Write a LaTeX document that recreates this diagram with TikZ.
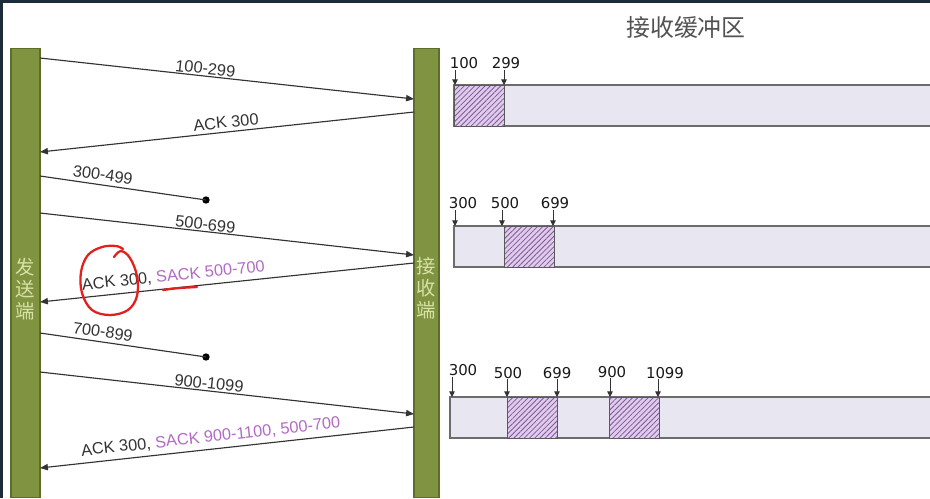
\documentclass[tikz,border=0pt]{standalone}
\usepackage{fontspec}
\setmainfont{Liberation Sans}
\newfontfamily\numfont{DejaVu Sans}
\newfontfamily\cjk{Noto Sans CJK SC}
\usetikzlibrary{arrows.meta, patterns.meta}
\definecolor{bar-fill}{HTML}{7F9341}
\definecolor{bar-draw}{HTML}{5D6D2C}
\definecolor{bar-text}{HTML}{D8E2A6}
\definecolor{msg-gray}{HTML}{333333}
\definecolor{sack-purple}{HTML}{B36AC4}
\definecolor{buf-fill}{HTML}{E8E6F1}
\definecolor{buf-draw}{HTML}{6C6C6C}
\definecolor{hatch-bg}{HTML}{DDCDEA}
\definecolor{hatch-line}{HTML}{85559A}
\definecolor{pen-red}{HTML}{E3201E}
\definecolor{frame-dark}{HTML}{1D2C3B}

\begin{document}
\begin{tikzpicture}[x=0.02cm, y=-0.02cm,
      every node/.style={font=\fontsize{9.3}{11}\selectfont},
      endpoint/.style={draw=bar-draw, fill=bar-fill, line width=0.6pt,
          minimum width=#1, minimum height=9cm, inner sep=0pt, outer sep=0pt},
      sidelbl/.style={text=bar-text, align=center,
          font=\cjk\fontsize{11}{12.5}\selectfont},
      msg/.style={draw=msg-gray, line width=0.65pt,
          -{Triangle[length=4.5pt, width=3.6pt]}},
      lbl/.style={sloped, above, inner sep=0.6pt, text=msg-gray},
      lost/.style={circle, fill=black, minimum size=4.2pt, inner sep=0pt},
      buf/.style={draw=buf-draw, fill=buf-fill, line width=0.8pt, anchor=north west,
          minimum width=#1, minimum height=0.82cm, inner sep=0pt, outer sep=0pt},
      hatched/.style={draw=black!65, line width=0.4pt, anchor=north west,
          preaction={fill=hatch-bg},
          pattern={Lines[angle=45, distance=2.1pt, line width=0.45pt]},
          pattern color=hatch-line,
          minimum width=1.0cm, minimum height=0.82cm, inner sep=0pt, outer sep=0pt},
      bufnum/.style={font=\numfont\fontsize{8.5}{10}\selectfont, text=black!90,
          inner sep=0pt},
      tick/.style={draw=black!80, line width=0.5pt,
          -{Triangle[length=3.2pt, width=3.2pt]}},
      annot/.style={draw=pen-red, line width=1.3pt, line cap=round, line join=round}]
    \useasboundingbox (0,0) rectangle (930,498);
    \fill[white] (0,0) rectangle (930,498);
    \fill[frame-dark] (0,0) rectangle (930,3);
    \fill[frame-dark] (0,0) rectangle (3,498);

    \node[endpoint=0.58cm] (sender) at (25.5,273) {};
    \node[endpoint=0.5cm] (receiver) at (426.5,273) {};
    \node[sidelbl] (sendlbl) at (25.5,289) {发\\送\\端};
    \node[sidelbl] (recvlbl) at (426.5,288) {接\\收\\端};

    \node[lost] (lost1) at (206,200) {};
    \node[lost] (lost2) at (206,357) {};

    \draw[msg] (sender.east |- 0,58) -- node[lbl, pos=0.44] {100-299} (receiver.west |- 0,99);
    \draw[msg] (receiver.west |- 0,112) -- node[lbl, pos=0.5, inner sep=2pt] {ACK 300} (sender.east |- 0,152);
    \draw[msg, -] (sender.east |- 0,176) -- node[lbl, pos=0.37, inner sep=2.2pt] {300-499} (lost1.center);
    \draw[msg] (sender.east |- 0,213) -- node[lbl, pos=0.44] {500-699} (receiver.west |- 0,255);
    \draw[msg] (receiver.west |- 0,263) -- node[lbl, pos=0.64, inner sep=2.6pt]
          {ACK 300, \textcolor{sack-purple}{SACK 500-700}} (sender.east |- 0,302);
    \draw[msg, -] (sender.east |- 0,333) -- node[lbl, pos=0.37, inner sep=2.2pt] {700-899} (lost2.center);
    \draw[msg] (sender.east |- 0,372) -- node[lbl, pos=0.45] {900-1099} (receiver.west |- 0,414);
    \draw[msg] (receiver.west |- 0,427) -- node[lbl, pos=0.54, inner sep=2.6pt]
          {ACK 300, \textcolor{sack-purple}{SACK 900-1100, 500-700}} (sender.east |- 0,468);

    \draw[annot] plot[smooth, tension=0.6] coordinates {(114,257) (121,251) (130,258)
          (137,276) (137,296) (128,310) (110,315) (92,310) (82,293) (81,272) (88,255)
          (102,247) (116,246) (123,249)};
    \draw[annot] (163,290) .. controls (178,288) .. (197,287);

    \node[font=\cjk\fontsize{13.6}{15}\selectfont, text=black!68] (title) at (686,27) {接收缓冲区};

    \node[buf=9.7cm] (buf1) at (454,85) {};
    \node[hatched] (seg1) at (454,85) {};
    \node[bufnum] (b1n100) at (464,63.5) {100};
    \node[bufnum] (b1n299) at (506,63.5) {299};
    \draw[tick] (b1n100.south -| 455,0) -- (buf1.north -| 455,0);
    \draw[tick] (b1n299.south -| 504,0) -- (buf1.north -| 504,0);

    \node[buf=9.7cm] (buf2) at (454,226) {};
    \node[hatched] (seg2) at (504,226) {};
    \node[bufnum] (b2n300) at (463,203.5) {300};
    \node[bufnum] (b2n500) at (505,203.5) {500};
    \node[bufnum] (b2n699) at (555,203.5) {699};
    \draw[tick] (b2n300.south -| 455,0) -- (buf2.north -| 455,0);
    \draw[tick] (b2n500.south -| 502,0) -- (buf2.north -| 502,0);
    \draw[tick] (b2n699.south -| 553,0) -- (buf2.north -| 553,0);

    \node[buf=9.8cm] (buf3) at (450,397) {};
    \node[hatched] (seg3) at (507,397) {};
    \node[hatched] (seg4) at (609,397) {};
    \node[bufnum] (b3n300) at (463,370.5) {300};
    \node[bufnum] (b3n500) at (508,373) {500};
    \node[bufnum] (b3n699) at (557,373) {699};
    \node[bufnum] (b3n900) at (612,372) {900};
    \node[bufnum] (b3n1099) at (665,373) {1099};
    \draw[tick] (b3n300.south -| 452,0) -- (buf3.north -| 452,0);
    \draw[tick] (b3n500.south -| 507,0) -- (buf3.north -| 507,0);
    \draw[tick] (b3n699.south -| 557,0) -- (buf3.north -| 557,0);
    \draw[tick] (b3n900.south -| 610,0) -- (buf3.north -| 610,0);
    \draw[tick] (b3n1099.south -| 658,0) -- (buf3.north -| 658,0);
  \end{tikzpicture}
\end{document}
